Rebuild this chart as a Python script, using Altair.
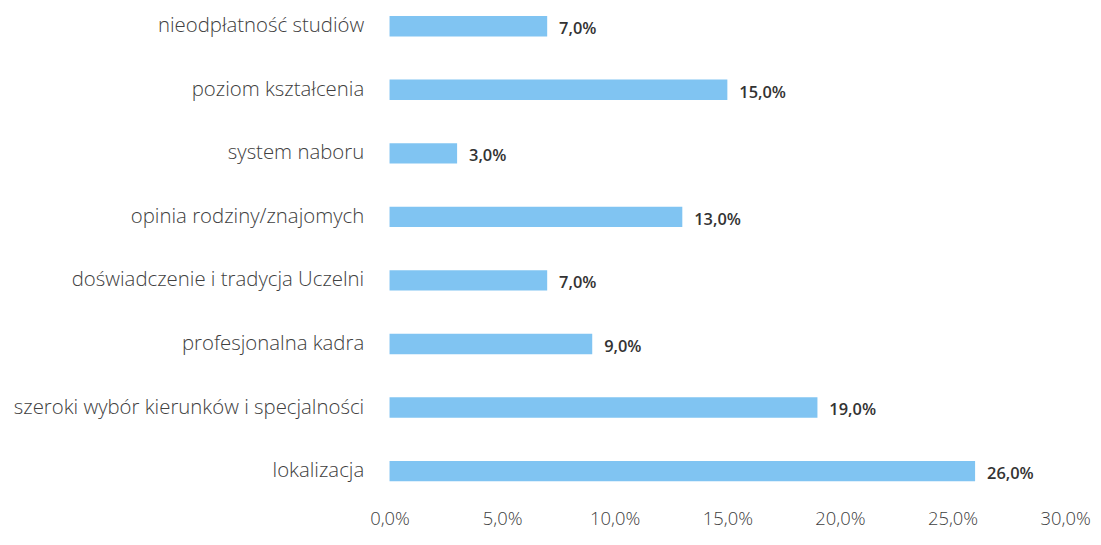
import altair as alt
import pandas as pd

categories = [
    "nieodpłatność studiów",
    "poziom kształcenia",
    "system naboru",
    "opinia rodziny/znajomych",
    "doświadczenie i tradycja Uczelni",
    "profesjonalna kadra",
    "szeroki wybór kierunków i specjalności",
    "lokalizacja",
]
values = [7.0, 15.0, 3.0, 13.0, 7.0, 9.0, 19.0, 26.0]
x_ticks = [0, 5, 10, 15, 20, 25, 30]

df = pd.DataFrame({"cat": categories, "val": values})
df["lbl"] = [f"{v:.1f}".replace(".", ",") + "%" for v in values]

FONT = "Open Sans"

y = alt.Y(
    "cat:N",
    sort=categories,
    title=None,
    scale=alt.Scale(paddingInner=0.68, paddingOuter=0.1),
    axis=alt.Axis(
        domain=False, ticks=False, labelFontSize=20.5, labelFont=FONT,
        labelFontWeight=300, labelColor="#404040", labelPadding=26, labelLimit=420,
    ),
)
x = alt.X(
    "val:Q",
    title=None,
    scale=alt.Scale(domain=[0, 30], nice=False),
    axis=alt.Axis(
        values=x_ticks, grid=False, domain=False, ticks=False,
        labelExpr="replace(format(datum.value, '.1f'), '.', ',') + '%'",
        labelFontSize=18.5, labelFont=FONT, labelFontWeight=300,
        labelColor="#404040", labelPadding=22, labelFlush=False,
    ),
)

bars = alt.Chart(df).mark_bar(color="#80C4F2").encode(x=x, y=y)
text = alt.Chart(df).mark_text(
    align="left", dx=12, dy=3, fontSize=16.5, font=FONT, fontWeight=600, color="#333333"
).encode(x="val:Q", y=alt.Y("cat:N", sort=categories), text="lbl:N")

chart = (bars + text).properties(
    width=680, height=481,
    autosize=alt.AutoSizeParams(type="none"),
    padding={"left": 384, "top": 0, "right": 28, "bottom": 50},
).configure_view(stroke=None)

chart.save("out.html", embed_options={"renderer": "svg", "actions": False})
